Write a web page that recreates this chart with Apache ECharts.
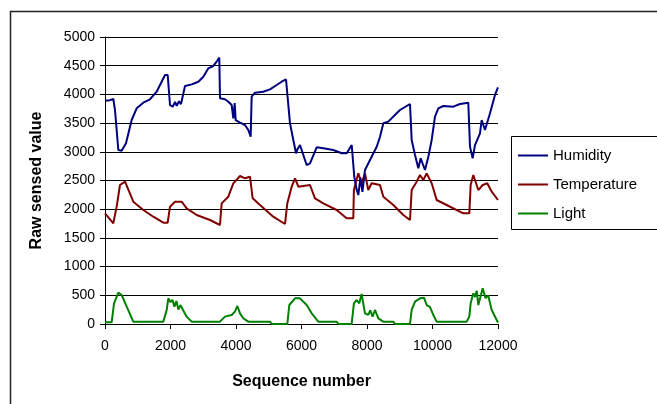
<!DOCTYPE html>
<html>
<head>
<meta charset="utf-8">
<script src="https://cdn.jsdelivr.net/npm/echarts@6/dist/echarts.min.js"></script>
<style>
    html, body { margin: 0; padding: 0; background: #fff; }
    #chart { width: 657px; height: 404px; }
</style>
</head>
<body>
<div id="chart"></div>
<script>
    // values, [sequence, raw value]
    const humidity = [
        [0,3890],[150,3900],[254,3920],[305,3728],[407,3031],[509,3019],[641,3148],[814,3554],[967,3758],
        [1170,3855],[1374,3915],[1578,4047],[1832,4338],[1914,4338],[1985,3815],[2067,3786],[2140,3870],
        [2190,3800],[2260,3880],[2320,3830],[2443,4146],[2647,4175],[2850,4221],[3003,4308],[3155,4454],
        [3307,4495],[3409,4570],[3490,4640],[3511,3932],[3664,3915],[3766,3873],[3868,3815],[3918,3583],
        [3960,3850],[3990,3550],[4122,3507],[4275,3467],[4376,3380],[4448,3263],[4478,3960],[4580,4030],
        [4834,4047],[5038,4088],[5242,4164],[5394,4221],[5527,4262],[5567,4251],[5649,3496],[5750,3206],
        [5832,2974],[5880,3050],[5954,3118],[6157,2770],[6260,2800],[6463,3078],[6666,3061],[6971,3031],
        [7227,2974],[7380,2974],[7533,3118],[7582,3089],[7612,2566],[7680,2350],[7735,2247],[7800,2550],
        [7860,2300],[7939,2683],[8092,2857],[8296,3089],[8397,3263],[8499,3497],[8651,3525],[8906,3671],
        [9008,3728],[9313,3833],[9364,3206],[9466,2944],[9567,2712],[9639,2886],[9771,2683],[9873,2915],
        [9975,3206],[10076,3612],[10178,3758],[10330,3798],[10636,3786],[10840,3833],[11093,3855],
        [11145,3089],[11226,2886],[11298,3118],[11450,3322],[11501,3554],[11603,3380],[11756,3671],
        [11908,3990],[12000,4123]
    ];
    const temperature = [
        [0,1928],[254,1754],[356,2044],[458,2422],[611,2479],[865,2131],[1170,1986],[1476,1869],[1781,1765],
        [1914,1765],[1985,2044],[2137,2131],[2341,2131],[2494,2015],[2799,1899],[3206,1812],[3511,1725],
        [3562,2102],[3765,2218],[3918,2451],[4122,2578],[4275,2538],[4427,2566],[4509,2190],[4733,2073],
        [5137,1869],[5496,1742],[5567,2102],[5700,2392],[5802,2538],[5903,2392],[5954,2422],[6259,2422],
        [6412,2190],[6666,2102],[7073,1986],[7378,1841],[7582,1841],[7600,2334],[7735,2625],[7836,2451],
        [7939,2625],[8040,2334],[8142,2451],[8397,2422],[8499,2218],[8804,2073],[9109,1899],[9313,1812],
        [9364,2334],[9516,2479],[9618,2596],[9720,2509],[9822,2625],[9975,2451],[10127,2160],[10432,2073],
        [10941,1928],[11124,1928],[11165,2422],[11246,2596],[11399,2334],[11532,2422],[11673,2451],
        [11808,2305],[12000,2160]
    ];
    const light = [
        [0,29],[204,29],[275,360],[407,546],[509,505],[662,302],[865,41],[1781,41],[1883,244],[1934,447],
        [2000,380],[2060,420],[2120,300],[2180,400],[2240,250],[2300,330],[2494,128],[2647,41],[3511,41],
        [3664,128],[3868,157],[3969,215],[4041,314],[4122,186],[4223,99],[4376,41],[5038,41],[5089,0],
        [5567,0],[5628,331],[5802,447],[5954,447],[6158,331],[6311,186],[6514,41],[7073,41],[7124,0],
        [7531,0],[7600,360],[7685,418],[7763,360],[7836,523],[7939,186],[8040,160],[8100,240],[8170,130],
        [8244,244],[8346,99],[8499,41],[8804,41],[8850,0],[9313,0],[9364,244],[9466,389],[9618,447],
        [9740,459],[9822,331],[9920,300],[10025,157],[10127,41],[11043,41],[11124,128],[11165,360],
        [11246,534],[11300,470],[11350,580],[11400,330],[11532,621],[11620,450],[11700,500],[11808,244],
        [11960,70],[12000,23]
    ];
    const seriesNames = ['Humidity', 'Temperature', 'Light'];
    const seriesColors = ['#000080', '#800000', '#008000'];

    let font = 'Arial, "Liberation Sans", sans-serif';

    let options = {
        animation: false,
        color: seriesColors,
        textStyle: { fontFamily: font },
        grid: {
            left: 105,
            right: 159,
            top: 37,
            bottom: 80
        },
        graphic: [
            // outer chart frame (cut off at right and bottom)
            {
                type: 'rect',
                shape: { x: 10.5, y: 11.5, width: 700, height: 500 },
                style: { fill: null, stroke: '#222', lineWidth: 1.5 },
                silent: true
            },
            // legend frame
            {
                type: 'rect',
                shape: { x: 511.5, y: 136.5, width: 200, height: 93 },
                style: { fill: null, stroke: '#000', lineWidth: 1 },
                silent: true
            }
        ],
        legend: {
            orient: 'vertical',
            left: 513,
            top: 143,
            itemGap: 14,
            itemWidth: 30,
            itemHeight: 2,
            icon: 'rect',
            data: seriesNames,
            textStyle: { fontSize: 15, color: '#000', fontFamily: font }
        },
        xAxis: {
            type: 'value',
            min: 0,
            max: 12000,
            interval: 2000,
            name: 'Sequence number',
            nameLocation: 'middle',
            nameGap: 50,
            nameTextStyle: { fontSize: 16, fontWeight: 'bold', color: '#000' },
            axisLine: { lineStyle: { color: '#000', width: 1 } },
            axisTick: { show: true, length: 5, lineStyle: { color: '#000' } },
            axisLabel: { fontSize: 14, color: '#000', margin: 15, formatter: function(v) { return String(v); } },
            splitLine: { show: false }
        },
        yAxis: {
            type: 'value',
            min: 0,
            max: 5000,
            interval: 500,
            name: 'Raw sensed value',
            nameLocation: 'middle',
            nameGap: 60,
            nameRotate: 90,
            nameTextStyle: { fontSize: 16, fontWeight: 'bold', color: '#000' },
            axisLine: { show: true, lineStyle: { color: '#000', width: 1 } },
            axisTick: { show: true, length: 5, lineStyle: { color: '#000' } },
            axisLabel: { fontSize: 14, color: '#000', margin: 10, formatter: function(v) { return String(v); } },
            splitLine: { show: true, lineStyle: { color: '#000', width: 1 } }
        },
        series: []
    };

    [humidity, temperature, light].forEach(function(data, index) {
        options.series.push({
            name: seriesNames[index],
            type: 'line',
            data: data,
            showSymbol: false,
            symbol: 'none',
            lineStyle: { width: 2, color: seriesColors[index] },
            z: 3 - index
        });
    });

    echarts.init(document.getElementById('chart')).setOption(options);
</script>
</body>
</html>
